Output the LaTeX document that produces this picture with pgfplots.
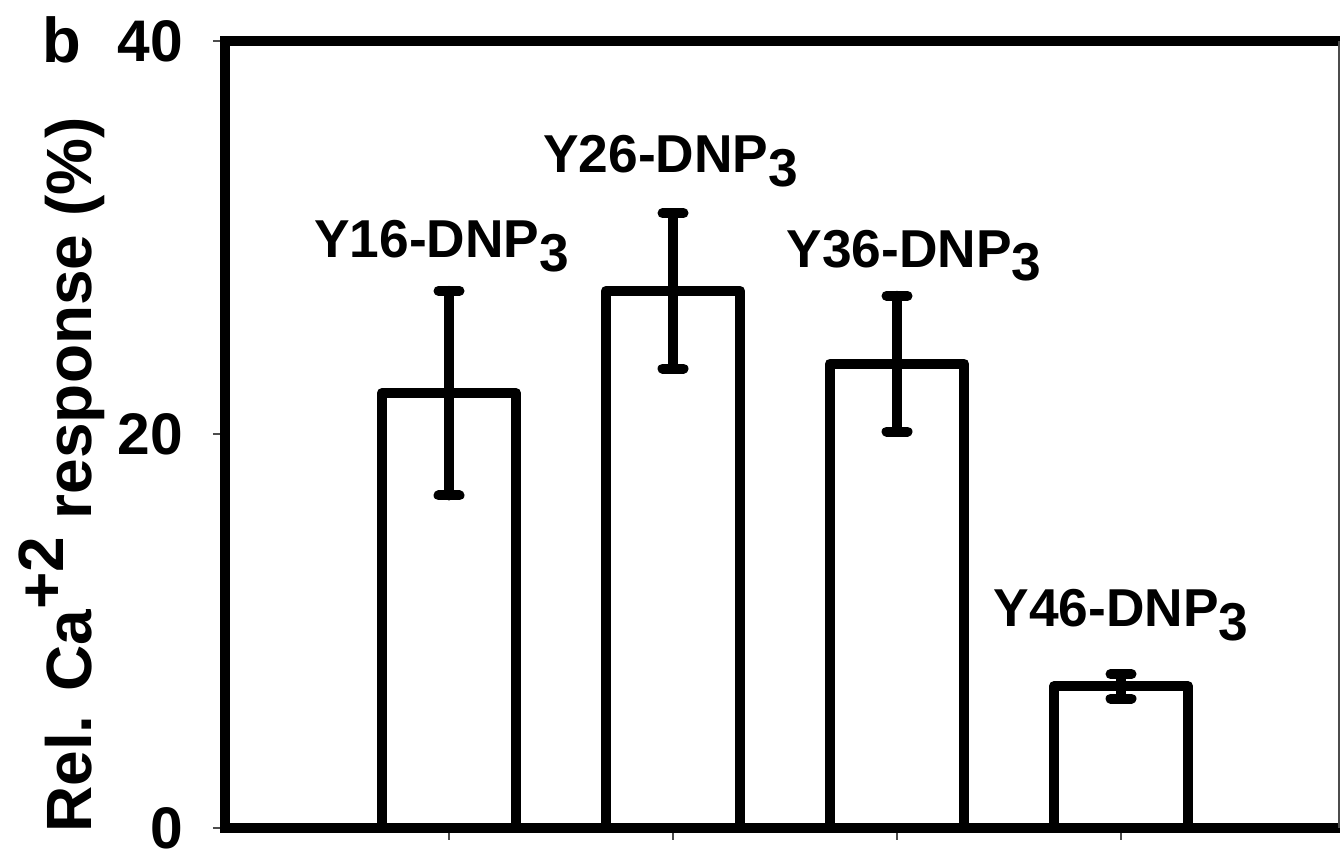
\documentclass[border=0pt]{standalone}
\usepackage{fontspec}
\setmainfont{Liberation Sans}
\usepackage{pgfplots}
\pgfplotsset{compat=1.18}
\usepackage{pgfplotstable}

\newcommand{\sub}[1]{\raisebox{-0.26em}{#1}}

\pgfplotstableread{
x y err
1 22.1 5.2
2 27.3 3.95
3 23.6 3.45
4 7.2 0.62
}\datatable

\begin{document}
\begin{tikzpicture}
\begin{axis}[
  name=ax,
  scale only axis,
  width=334.2pt, height=236.1pt,
  xmin=0, xmax=4.973,
  ymin=0, ymax=40,
  ybar,
  bar width=0.6,
  ytick={0,20,40},
  xtick={1,2,3,4},
  xticklabels={},
  axis x line*=bottom,
  axis y line*=left,
  axis line style={line width=3pt, line cap=rect, -},
  tick style={black!70, line width=0.6pt},
  tick align=outside,
  major tick length=3.6pt,
  /pgf/number format/assume math mode=true,
  yticklabel style={font=\fontsize{17.6}{17.6}\selectfont\bfseries, xshift=-5.4pt},
  ylabel={Rel. Ca\raisebox{0.45em}{+2} response (\%)},
  ylabel style={at={(axis description cs:-0.1194,0.4485)}, anchor=base,
    font=\fontsize{19.2}{19.2}\selectfont\bfseries},
  clip=false,
]
\addplot[fill=white, draw=black, line width=3pt, line join=round,
  error bars/.cd, y dir=both, y explicit,
  error bar style={line width=3pt, line cap=round, black},
  error mark options={rotate=90, mark size=3.15pt, line width=3pt, line cap=round, black}]
  table[x=x, y=y, y error=err] {\datatable};

\begin{scope}[every node/.style={font=\fontsize{16}{16}\selectfont\bfseries, anchor=base, inner sep=0pt}]
\node at (axis cs:0.967,28.97) {Y16-DNP\sub{3}};
\node at (axis cs:1.99,33.29) {Y26-DNP\sub{3}};
\node at (axis cs:3.076,28.51) {Y36-DNP\sub{3}};
\node at (axis cs:4.0,10.22) {Y46-DNP\sub{3}};
\end{scope}

\draw[line width=3pt, line cap=rect] (rel axis cs:0,1) -- (rel axis cs:1,1);
\draw[line width=0.5pt, black!70] (rel axis cs:1,0) -- (rel axis cs:1,1);
\end{axis}
\node[anchor=base, font=\fontsize{19}{19}\selectfont\bfseries, inner sep=0pt]
  at ([xshift=-48.9pt, yshift=-6.6pt]ax.north west) {b};
\pgfresetboundingbox
\path ([xshift=-67.5pt,yshift=-6.3pt]ax.south west) rectangle ([xshift=0.3pt,yshift=12.3pt]ax.north east);
\end{tikzpicture}
\end{document}
